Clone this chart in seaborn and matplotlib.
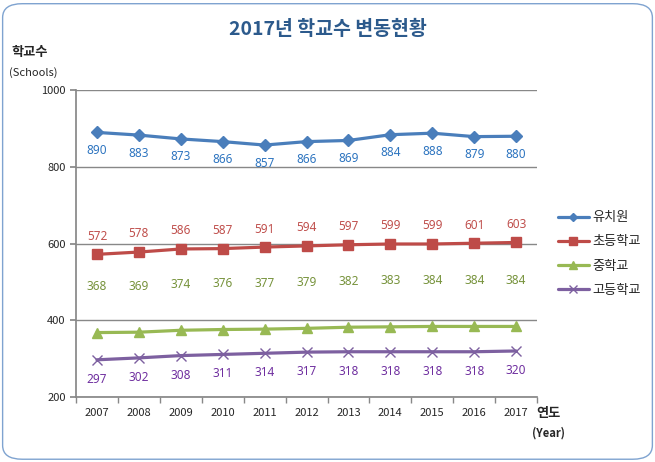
import pandas as pd
import numpy as np
import seaborn as sns
import matplotlib.pyplot as plt
from matplotlib.patches import FancyBboxPatch

# Data
years = ['2007', '2008', '2009', '2010', '2011', '2012', '2013', '2014', '2015', '2016', '2017']
kindergarten = [890, 883, 873, 866, 857, 866, 869, 884, 888, 879, 880]
elementary = [572, 578, 586, 587, 591, 594, 597, 599, 599, 601, 603]
middle = [368, 369, 374, 376, 377, 379, 382, 383, 384, 384, 384]
high = [297, 302, 308, 311, 314, 317, 318, 318, 318, 318, 320]
series_names = ['유치원', '초등학교', '중학교', '고등학교']

sns.set_theme(style="white")
plt.rcParams['font.family'] = ['Noto Sans CJK KR', 'DejaVu Sans']

df = pd.DataFrame({'year': years * 4,
                   'schools': kindergarten + elementary + middle + high,
                   'type': np.repeat(series_names, len(years))})
df['x'] = df['year'].map({y: i for i, y in enumerate(years)})

line_colors = ['#4A7EBB', '#BE4B48', '#98B954', '#7D60A0']
label_colors = ['#2E75C0', '#C0504D', '#77933C', '#7030A0']
markers = ['D', 's', '^', 'x']
msizes = [6, 7, 7, 7]
offsets = [-13, 13, 33, -14]

fig = plt.figure(figsize=(6.55, 4.62), dpi=100)
fig.patches.append(FancyBboxPatch((0.004, 0.006), 0.992, 0.986,
                                  boxstyle="round,pad=0,rounding_size=0.03",
                                  transform=fig.transFigure, fill=False,
                                  edgecolor='#7FA3D0', linewidth=1))
ax = fig.add_axes([0.116, 0.1407, 0.704, 0.664])

for name, lc, col, mk, ms, off in zip(series_names, label_colors, line_colors,
                                      markers, msizes, offsets):
    sub = df[df['type'] == name]
    sns.lineplot(data=sub, x='x', y='schools', color=col, marker=mk, markersize=ms,
                 markeredgecolor=col, markeredgewidth=1, linewidth=2.3, label=name, ax=ax)
    for xv, yv in zip(sub['x'], sub['schools']):
        ax.annotate(str(yv), (xv, yv), xytext=(0, off), textcoords='offset points',
                    ha='center', va='center', fontsize=8.5, color=lc,
                    family=['Noto Sans', 'DejaVu Sans'])

ax.set_xlim(-0.5, 10.5)
ax.set_ylim(200, 1000)
ax.set_yticks([200, 400, 600, 800, 1000])
ax.set_xticks(range(len(years)))
ax.set_xticklabels(years)
ax.set_xticks(np.arange(-0.5, 11, 1), minor=True)
ax.tick_params(axis='x', which='major', length=0, labelsize=8, pad=8)
ax.tick_params(axis='x', which='minor', length=4, color='#888888', direction='out', bottom=True)
ax.tick_params(axis='y', length=4, color='#888888', labelsize=8, direction='out', left=True)
ax.grid(axis='y', color='#888888', linewidth=1)
for s in ['top', 'right']:
    ax.spines[s].set_visible(False)
for s in ['left', 'bottom']:
    ax.spines[s].set_color('#888888')
ax.set_xlabel('')
ax.set_ylabel('')

fig.text(0.5, 0.936, '2017년 학교수 변동현황', ha='center', va='center',
         fontsize=14, fontweight='bold', color='#2C5A8C')
fig.text(0.045, 0.888, '학교수', ha='center', va='center', fontsize=9.5, fontweight='bold')
fig.text(0.05, 0.843, '(Schools)', ha='center', va='center', fontsize=8)
fig.text(0.838, 0.105, '연도', ha='center', va='center', fontsize=9.5, fontweight='bold')
fig.text(0.838, 0.062, '(Year)', ha='center', va='center', fontsize=8, fontweight='bold')

leg = ax.legend(loc='center left', bbox_to_anchor=(1.02, 0.466), frameon=False,
                fontsize=9.5, handlelength=2.3, handletextpad=0.3,
                labelspacing=0.85, markerscale=0.75)

fig.savefig('out.png', dpi=100)
